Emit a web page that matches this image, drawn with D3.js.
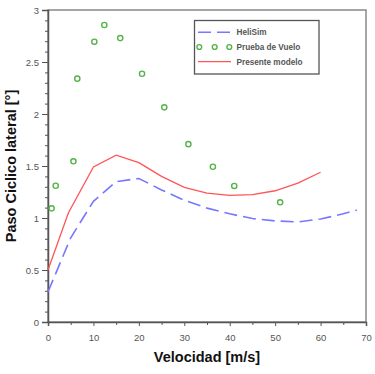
<!DOCTYPE html>
<html><head><meta charset="utf-8">
<script src="https://cdn.jsdelivr.net/npm/d3@7"></script>
<style>html,body{margin:0;padding:0;background:#fff;}svg{display:block;font-family:"Liberation Sans",Arial,sans-serif;}</style>
</head><body>
<script>
const xTicks = [0,10,20,30,40,50,60,70];
const yTicks = [0,0.5,1,1.5,2,2.5,3];
const heliX = [0,5,10,15,20,25,30,35,40,45,50,55,60,65,68];
const heliY = [0.29,0.81,1.16,1.35,1.38,1.27,1.17,1.095,1.04,0.995,0.972,0.962,0.99,1.04,1.077];
const vueloX = [0.8,1.7,5.6,6.45,10.2,12.4,15.9,20.7,25.6,30.9,36.3,41.0,51.1];
const vueloY = [1.093,1.31,1.545,2.34,2.695,2.856,2.73,2.387,2.064,1.71,1.493,1.308,1.151];
const modeloX = [0,4.5,10,15,20,25,30,35,40,45,50,55,60];
const modeloY = [0.5,1.05,1.49,1.605,1.532,1.40,1.295,1.24,1.218,1.225,1.262,1.335,1.44];
const legendLabels = ["HeliSim","Prueba de Vuelo","Presente modelo"];

const W=375,H=374, L=48, R=366, T=10, B=322;
const svg=d3.select("body").append("svg").attr("width",W).attr("height",H);
const x=d3.scaleLinear().domain([0,70]).range([L,R]);
const y=d3.scaleLinear().domain([0,3]).range([B,T]);

svg.append("rect").attr("x",L).attr("y",T).attr("width",R-L).attr("height",B-T)
  .attr("fill","none").attr("stroke","#888").attr("stroke-width",1.5);

const gxm=svg.append("g").attr("transform",`translate(0,${B})`)
  .call(d3.axisBottom(x).tickValues(d3.range(5,70,10)).tickSize(3).tickFormat(""));
const gym=svg.append("g").attr("transform",`translate(${L},0)`)
  .call(d3.axisLeft(y).tickValues(d3.range(0,31).map(d=>d/10).filter(d=>Math.round(d*10)%5!==0)).tickSize(3).tickFormat(""));
[gxm,gym].forEach(g=>{g.select(".domain").remove();g.selectAll("line").attr("stroke","#555");});

const gx=svg.append("g").attr("transform",`translate(0,${B})`)
  .call(d3.axisBottom(x).tickValues(xTicks).tickSize(4).tickPadding(8).tickFormat(d3.format("d")));
const gy=svg.append("g").attr("transform",`translate(${L},0)`)
  .call(d3.axisLeft(y).tickValues(yTicks).tickSize(6).tickPadding(3).tickFormat(d=>String(d)));
[gx,gy].forEach(g=>{
  g.select(".domain").attr("stroke","#555").attr("stroke-width",1.5);
  g.selectAll("line").attr("stroke","#555");
  g.selectAll("text").attr("fill","#555").style("font-size","9.5px").style("font-family","'Liberation Sans',Arial,sans-serif");
});

const line=d3.line().x(d=>x(d[0])).y(d=>y(d[1]));

svg.append("path").datum(heliX.map((v,i)=>[v,heliY[i]]))
  .attr("d",line)
  .attr("fill","none").attr("stroke","#7777ff").attr("stroke-width",1.6).attr("stroke-dasharray","13,6");
svg.append("path").datum(modeloX.map((v,i)=>[v,modeloY[i]]))
  .attr("d",line)
  .attr("fill","none").attr("stroke","#ff5555").attr("stroke-width",1.3);
svg.append("g").selectAll("circle").data(vueloX.map((v,i)=>[v,vueloY[i]])).join("circle")
  .attr("cx",d=>x(d[0])).attr("cy",d=>y(d[1])).attr("r",2.6)
  .attr("fill","none").attr("stroke","#55b34a").attr("stroke-width",1.4);

const lg=svg.append("g");
lg.append("rect").attr("x",194.5).attr("y",20.5).attr("width",124.5).attr("height",53.5)
  .attr("fill","#fff").attr("stroke","#555").attr("stroke-width",1.3);
const ly=[32.3,47,61.7];
lg.append("line").attr("x1",198).attr("x2",231).attr("y1",ly[0]).attr("y2",ly[0])
  .attr("stroke","#7777ff").attr("stroke-width",1.6).attr("stroke-dasharray","13,6");
[199.3,214.7,229.3].forEach(cx=>lg.append("circle").attr("cx",cx).attr("cy",ly[1]).attr("r",2.4)
  .attr("fill","none").attr("stroke","#55b34a").attr("stroke-width",1.4));
lg.append("line").attr("x1",198).attr("x2",231).attr("y1",ly[2]).attr("y2",ly[2])
  .attr("stroke","#ff5555").attr("stroke-width",1.3);
legendLabels.forEach((t,i)=>lg.append("text").attr("x",236.5).attr("y",ly[i]+3)
  .text(t).style("font-size","8.2px").style("font-weight","bold").attr("fill","#555"));

svg.append("text").attr("x",(L+R)/2).attr("y",362).attr("text-anchor","middle")
  .style("font-size","14.5px").style("font-weight","bold").attr("fill","#111").text("Velocidad [m/s]");
svg.append("text").attr("transform",`translate(16,${(T+B)/2}) rotate(-90)`).attr("text-anchor","middle")
  .style("font-size","14.5px").style("font-weight","bold").attr("fill","#111").text("Paso Ciclico lateral [°]");
</script>
</body></html>
